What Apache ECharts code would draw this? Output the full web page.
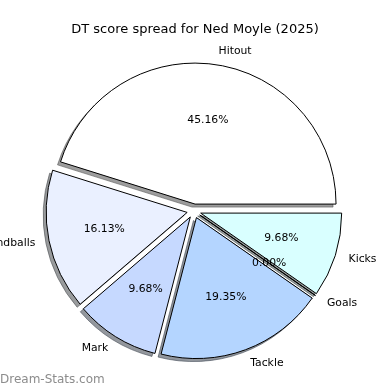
<!DOCTYPE html>
<html>
<head>
<meta charset="utf-8">
<script src="https://cdn.jsdelivr.net/npm/echarts@6/dist/echarts.min.js"></script>
<style>html,body{margin:0;padding:0;background:#fff}#c{width:390px;height:390px}</style>
</head>
<body>
<div id="c"></div>
<script>
const categories = ['Hitout', 'Handballs', 'Mark', 'Tackle', 'Goals', 'Kicks'];
const values = [14, 5, 3, 6, 0, 3];
const colors = ['#ffffff', '#eaf0ff', '#c6d9ff', '#b4d5ff', '#a0c8ff', '#d9ffff'];
const titleText = 'DT score spread for Ned Moyle (2025)';
const watermark = 'Dream-Stats.com';

const FONT = 'DejaVu Sans';
const LABEL_SIZE = 10.8;
const R = 141;
const center = [194, 211];
const offset = 7;
const SH = 3;

function shadowOf(hex) {
  const n = parseInt(hex.slice(1), 16);
  const r = Math.round(((n >> 16) & 255) * 0.3);
  const g = Math.round(((n >> 8) & 255) * 0.3);
  const b = Math.round((n & 255) * 0.3);
  return 'rgba(' + r + ',' + g + ',' + b + ',0.55)';
}

const chart = echarts.init(document.getElementById('c'), null, {renderer: 'canvas'});

const mk = (styleFn) => categories.map((name, i) => ({
  name: name,
  value: values[i],
  selected: true,
  itemStyle: styleFn(i)
}));

const common = {
  type: 'pie',
  startAngle: 0,
  clockwise: false,
  selectedMode: 'multiple',
  selectedOffset: offset,
  avoidLabelOverlap: false,
  silent: true,
  emphasis: {disabled: true}
};

chart.setOption({
  animation: false,
  title: {
    text: titleText,
    left: 'center',
    top: 18,
    textStyle: {fontFamily: FONT, fontSize: 13, fontWeight: 'normal', color: '#000'}
  },
  graphic: [{
    type: 'text',
    left: 0,
    top: 374,
    style: {text: watermark, fontFamily: FONT, fontSize: 12, fill: '#8c8c8c'}
  }],
  series: [
    Object.assign({}, common, {
      name: 'shadow',
      center: [center[0] - SH, center[1] + SH],
      radius: [0, R],
      z: 1,
      label: {show: false},
      labelLine: {show: false},
      select: {itemStyle: {borderWidth: 1}},
      data: mk(i => ({color: shadowOf(colors[i]), borderColor: shadowOf(colors[i]), borderWidth: 1}))
    }),
    Object.assign({}, common, {
      name: 'pie',
      center: center,
      radius: [0, R],
      z: 2,
      select: {itemStyle: {borderColor: '#000', borderWidth: 1}},
      label: {
        show: true,
        position: 'outside',
        formatter: '{b}',
        fontFamily: FONT,
        fontSize: LABEL_SIZE,
        color: '#000',
        distanceToLabelLine: 0
      },
      labelLine: {show: false, length: 14, length2: 0},
      data: mk(i => ({color: colors[i], borderColor: '#000', borderWidth: 1}))
    }),
    Object.assign({}, common, {
      name: 'pct',
      center: center,
      radius: [0, 2 * (0.6 * R - 3)],
      z: 3,
      select: {itemStyle: {color: 'rgba(0,0,0,0)', borderWidth: 0}},
      label: {
        show: true,
        position: 'inside',
        formatter: p => p.percent.toFixed(2) + '%',
        fontFamily: FONT,
        fontSize: LABEL_SIZE,
        color: '#000'
      },
      labelLine: {show: false},
      data: mk(i => ({color: 'rgba(0,0,0,0)', borderWidth: 0}))
    })
  ]
});
</script>
</body>
</html>
